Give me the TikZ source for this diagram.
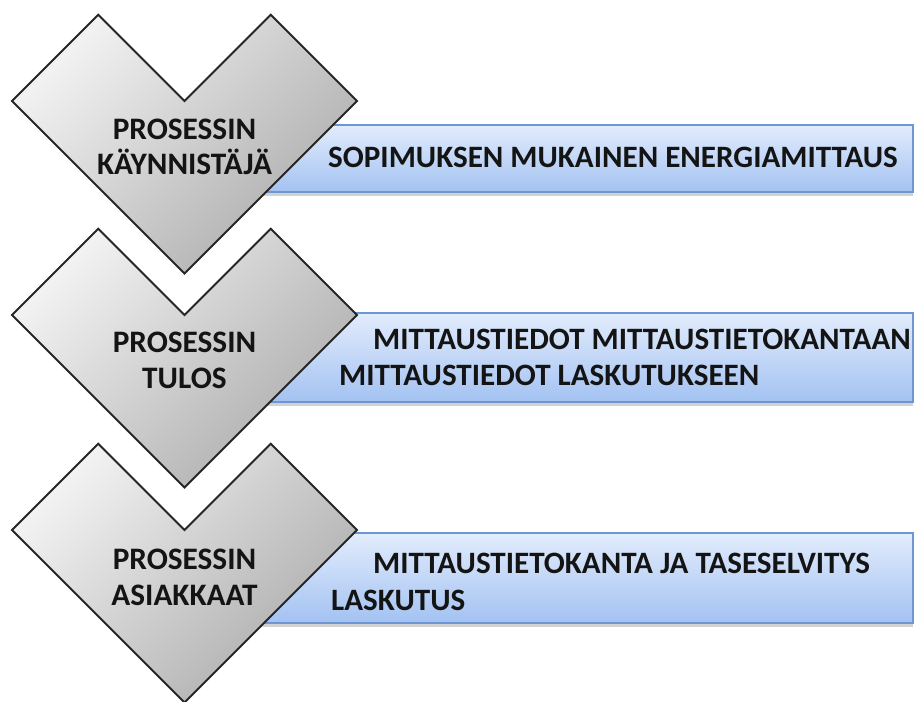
\documentclass[tikz,border=0pt]{standalone}
\usepackage{fontspec}
\setmainfont{Carlito}
\usetikzlibrary{shadows}

\definecolor{chevlight}{HTML}{F2F2F2}
\definecolor{chevdark}{HTML}{ABABAB}
\definecolor{bartop}{HTML}{E2ECFC}
\definecolor{barbottom}{HTML}{A3C2F2}
\definecolor{barline}{HTML}{6E96D2}
\definecolor{inktext}{HTML}{141414}

% chevron with its notch at (#2,#3)
\def\chevron[#1](#2,#3){\draw[#1] (#2-172.5,#3) -- (#2-86.25,#3-86.25) -- (#2,#3) -- (#2+86.25,#3-86.25) -- (#2+172.5,#3) -- (#2,#3+172.5) -- cycle;}

\tikzset{
  chevfill/.style={top color=chevlight, bottom color=chevdark, shading angle=45, draw=black!85, line width=1.1pt},
  barfill/.style={top color=bartop, bottom color=barbottom, draw=barline, line width=0.9pt,
    drop shadow={shadow xshift=0pt, shadow yshift=-2pt, opacity=0.35}},
  chevtext/.style={font=\bfseries\fontsize{17.8}{21}\selectfont, text=inktext, anchor=base},
  bartext/.style={font=\bfseries\fontsize{17.7}{21}\selectfont, text=inktext, anchor=base west}
}

\begin{document}
\begin{tikzpicture}[x=0.02cm, y=-0.02cm]
			%%%%% START %%%%%
			
			\fill[white] (0, 0) rectangle (915, 702);
			\useasboundingbox (0, 0) rectangle (915, 702);
			
			% bars
			\draw[barfill] (200, 125) rectangle (913, 192);
			\draw[barfill] (200, 313) rectangle (913, 402);
			\draw[barfill] (200, 533) rectangle (913, 623);
			
			% chevrons
			\chevron[chevfill](184.5, 101);
			\chevron[chevfill](184.5, 315);
			\chevron[chevfill](184.5, 530);
			
			\node[chevtext] (chevAtop) at (184.5, 140) {PROSESSIN};
			\node[chevtext] (chevAbot) at (184.5, 175) {KÄYNNISTÄJÄ};
			\node[chevtext] (chevBtop) at (184.5, 352) {PROSESSIN};
			\node[chevtext] (chevBbot) at (184.5, 388) {TULOS};
			\node[chevtext] (chevCtop) at (184.5, 569) {PROSESSIN};
			\node[chevtext] (chevCbot) at (184.5, 605) {ASIAKKAAT};
			
			\node[bartext] (barA) at (322, 168) {SOPIMUKSEN MUKAINEN ENERGIAMITTAUS};
			\node[bartext] (barBtop) at (367, 349) {MITTAUSTIEDOT MITTAUSTIETOKANTAAN};
			\node[bartext] (barBbot) at (333, 385) {MITTAUSTIEDOT LASKUTUKSEEN};
			\node[bartext] (barCtop) at (367, 573) {MITTAUSTIETOKANTA JA TASESELVITYS};
			\node[bartext] (barCbot) at (325, 610) {LASKUTUS};
			
			%%%%% END %%%%%
		\end{tikzpicture}
\end{document}
